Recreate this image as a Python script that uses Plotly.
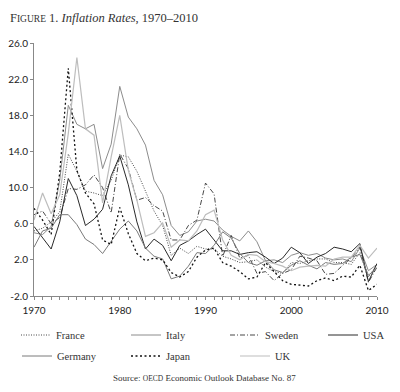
import plotly.graph_objects as go

years = list(range(1970, 2011))

france = [5.2, 5.5, 6.2, 7.3, 13.7, 11.8, 9.6, 9.4, 9.1, 10.8, 13.6, 13.4, 11.8, 9.6, 7.4, 5.8, 2.5, 3.3, 2.7, 3.5, 3.2, 3.2, 2.4, 2.1, 1.7, 1.8, 2.0, 1.2, 0.7, 0.5, 1.7, 1.6, 1.9, 2.1, 2.1, 1.7, 1.7, 1.5, 2.8, 0.1, 1.5]
italy = [5.0, 4.8, 5.7, 10.8, 19.1, 17.0, 16.5, 17.0, 12.1, 14.8, 21.2, 17.8, 16.5, 14.7, 10.8, 9.2, 5.8, 4.7, 5.1, 6.3, 6.5, 6.3, 5.3, 4.6, 4.1, 5.2, 4.0, 1.9, 2.0, 1.7, 2.5, 2.8, 2.5, 2.7, 2.2, 2.0, 2.1, 1.8, 3.3, 0.8, 1.5]
sweden = [7.0, 7.4, 6.0, 6.7, 9.9, 9.8, 10.3, 11.4, 10.0, 7.2, 13.7, 12.1, 8.6, 8.9, 8.0, 7.4, 4.2, 4.2, 5.8, 6.4, 10.5, 9.3, 2.4, 4.7, 2.2, 2.5, 0.5, 0.7, -0.3, 0.5, 0.9, 2.4, 2.2, 1.9, 0.4, 0.5, 1.4, 2.2, 3.4, -0.5, 1.2]
usa = [5.7, 4.4, 3.2, 6.2, 11.0, 9.1, 5.8, 6.5, 7.6, 11.3, 13.5, 10.3, 6.2, 3.2, 4.3, 3.6, 1.9, 3.6, 4.1, 4.8, 5.4, 4.2, 3.0, 3.0, 2.6, 2.8, 2.9, 2.3, 1.6, 2.2, 3.4, 2.8, 1.6, 2.3, 2.7, 3.4, 3.2, 2.9, 3.8, -0.4, 1.6]
germany = [3.4, 5.2, 5.5, 7.0, 7.0, 5.9, 4.3, 3.7, 2.7, 4.0, 5.4, 6.3, 5.2, 3.3, 2.4, 2.1, -0.1, 0.2, 1.3, 2.8, 2.7, 3.6, 5.1, 4.4, 2.7, 1.7, 1.4, 1.9, 0.9, 0.6, 1.4, 1.9, 1.4, 1.0, 1.7, 1.5, 1.6, 2.3, 2.6, 0.3, 1.1]
japan = [7.7, 6.4, 4.8, 11.6, 23.2, 11.9, 9.4, 8.2, 4.2, 3.7, 7.8, 4.9, 2.7, 1.9, 2.2, 2.0, 0.6, 0.1, 0.7, 2.3, 3.1, 3.3, 1.7, 1.3, 0.7, -0.1, 0.1, 1.7, 0.7, -0.3, -0.7, -0.8, -0.9, -0.3, 0.0, -0.3, 0.2, 0.1, 1.4, -1.4, -0.7]
uk = [6.4, 9.4, 7.1, 9.2, 16.0, 24.4, 16.5, 15.8, 8.3, 13.4, 18.0, 11.9, 8.6, 4.6, 5.0, 6.1, 3.4, 4.2, 4.1, 5.2, 7.0, 7.5, 4.2, 2.5, 2.0, 2.6, 2.5, 1.8, 1.6, 1.3, 0.8, 1.2, 1.3, 1.4, 1.3, 2.1, 2.3, 2.3, 3.6, 2.2, 3.3]

y_ticks = [-2, 2, 6, 10, 14, 18, 22, 26]
y_tick_labels = ["-2.0", "2.0", "6.0", "10.0", "14.0", "18.0", "22.0", "26.0"]
x_ticks = [1970, 1980, 1990, 2000, 2010]

# name, values, colour, dash, width, legend key, legend x (container), legend y (container)
series = [
    ("France", france, "#333333", "1px,1.5px", 0.9, "legend2", 0.04, 0.1454),
    ("Italy", italy, "#8c8c8c", "solid", 1.0, "legend3", 0.315, 0.1454),
    ("Sweden", sweden, "#333333", "5px,2px,1px,2px", 0.9, "legend4", 0.5625, 0.1454),
    ("USA", usa, "#2a2a2a", "solid", 1.0, "legend5", 0.8075, 0.1454),
    ("Germany", germany, "#7a7a7a", "solid", 1.0, "legend6", 0.0425, 0.0918),
    ("Japan", japan, "#111111", "2px,2.5px", 1.3, "legend7", 0.315, 0.0918),
    ("UK", uk, "#bdbdbd", "solid", 1.2, "legend8", 0.5875, 0.0918),
]

legend_font = dict(family="Liberation Serif", size=10.5, color="#333")
fig = go.Figure()
legends = {}
for name, vals, col, dash, w, key, lx, ly in series:
    fig.add_trace(go.Scatter(x=years, y=vals, name=name, mode="lines",
                             line=dict(color=col, dash=dash, width=w), legend=key))
    legends[key] = dict(orientation="h", xref="container", yref="container", x=lx, y=ly,
                        xanchor="left", yanchor="middle", font=legend_font, itemwidth=30,
                        bgcolor="rgba(0,0,0,0)", visible=True)

fig.update_layout(
    width=400, height=392,
    margin=dict(l=34, r=23, t=43, b=96, autoexpand=False),
    paper_bgcolor="white", plot_bgcolor="white",
    showlegend=True,
    title=dict(text="F<span style='font-size:9.5px'>IGURE</span> 1. <i>Inflation Rates</i>, 1970–2010",
               x=0.025, xanchor="left", y=0.955, yanchor="middle",
               font=dict(family="Liberation Serif", size=12.5, color="#333")),
    xaxis=dict(range=[1970, 2010], tickvals=x_ticks, ticks="outside", ticklen=3,
               tickcolor="#888", showline=True, linecolor="#888", linewidth=1,
               showgrid=False, zeroline=False,
               minor=dict(dtick=1, tick0=1970, ticks="outside", ticklen=3, tickcolor="#888"),
               tickfont=dict(family="Lato", size=10, color="#222"), ticklabelstandoff=2),
    yaxis=dict(range=[-2, 26], tickvals=y_ticks, ticktext=y_tick_labels, ticks="outside",
               ticklen=3, tickcolor="#888", showline=True, linecolor="#888", linewidth=1,
               showgrid=False, zeroline=False,
               tickfont=dict(family="Lato", size=10, color="#222")),
    annotations=[dict(text="Source: <span style='font-size:7.5px'>OECD</span> Economic Outlook Database No. 87",
                      xref="paper", yref="paper", x=0.4985, y=-0.324, xanchor="center", yanchor="middle",
                      showarrow=False, font=dict(family="Liberation Serif", size=9, color="#333"))],
    **legends,
)

fig.write_html("out.html", config={"displayModeBar": False},
               post_script="document.body.style.margin='0';")
